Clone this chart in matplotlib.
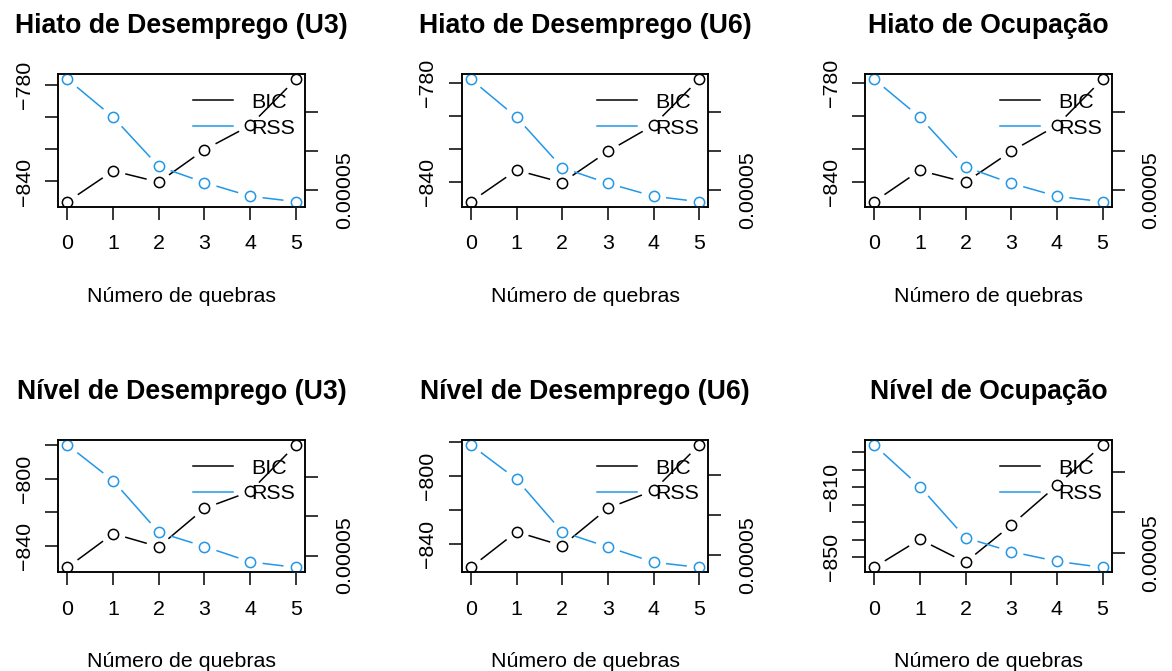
import numpy as np
import matplotlib
matplotlib.use("Agg")
import matplotlib.pyplot as plt
from matplotlib.collections import LineCollection
from matplotlib.lines import Line2D

plt.rcParams["font.family"] = ["Liberation Sans", "DejaVu Sans"]
plt.rcParams["axes.unicode_minus"] = True

# Number of structural breaks tested
breaks = [0, 1, 2, 3, 4, 5]

titles = [
    "Hiato de Desemprego (U3)",
    "Hiato de Desemprego (U6)",
    "Hiato de Ocupação",
    "Nível de Desemprego (U3)",
    "Nível de Desemprego (U6)",
    "Nível de Ocupação",
]

bic_hiato_u3 = [-852.5, -833.4, -840.4, -820.3, -805.3, -776.7]
rss_hiato_u3 = [7.84e-5, 6.87e-5, 5.61e-5, 5.20e-5, 4.85e-5, 4.71e-5]
bic_hiato_u6 = [-852.2, -833.1, -840.6, -821.7, -805.8, -778.0]
rss_hiato_u6 = [7.84e-5, 6.87e-5, 5.58e-5, 5.18e-5, 4.85e-5, 4.71e-5]
bic_hiato_ocup = [-852.2, -833.3, -840.4, -821.7, -806.0, -778.0]
rss_hiato_ocup = [7.84e-5, 6.87e-5, 5.60e-5, 5.18e-5, 4.85e-5, 4.71e-5]
bic_nivel_u3 = [-852.6, -832.6, -840.4, -817.6, -807.6, -780.0]
rss_nivel_u3 = [7.81e-5, 6.90e-5, 5.59e-5, 5.23e-5, 4.84e-5, 4.70e-5]
bic_nivel_u6 = [-854.0, -833.0, -841.2, -819.1, -808.6, -781.7]
rss_nivel_u6 = [7.76e-5, 6.90e-5, 5.58e-5, 5.20e-5, 4.82e-5, 4.69e-5]
bic_nivel_ocup = [-855.8, -839.8, -852.9, -831.7, -809.0, -785.9]
rss_nivel_ocup = [7.67e-5, 6.64e-5, 5.375e-5, 5.03e-5, 4.79e-5, 4.64e-5]

bic_series = [bic_hiato_u3, bic_hiato_u6, bic_hiato_ocup,
              bic_nivel_u3, bic_nivel_u6, bic_nivel_ocup]
rss_series = [rss_hiato_u3, rss_hiato_u6, rss_hiato_ocup,
              rss_nivel_u3, rss_nivel_u6, rss_nivel_ocup]

# Left (BIC) axis ticks and the labels that are printed
bic_ticks_20 = [-840, -820, -800, -780]
bic_ticks_10 = [-850, -840, -830, -820, -810, -800, -790]
bic_ticks = [bic_ticks_20, bic_ticks_20, bic_ticks_20,
             bic_ticks_20, bic_ticks_20, bic_ticks_10]
bic_labels = [
    ["\u2212840", "", "", "\u2212780"],
    ["\u2212840", "", "", "\u2212780"],
    ["\u2212840", "", "", "\u2212780"],
    ["\u2212840", "", "\u2212800", ""],
    ["\u2212840", "", "\u2212800", ""],
    ["\u2212850", "", "", "", "\u2212810", "", ""],
]
# Right (RSS) axis ticks
rss_ticks = [5e-5, 6e-5, 7e-5]
rss_labels = ["0.00005", "", ""]

xlabel = "Número de quebras"
legend_labels = ["BIC", "RSS"]

BLUE = "#2297E6"
W, H, DPI = 1172, 671, 100
FS = 15.4
FS_TITLE = 19.2
LW = 1.1
GAP_PX = 12.5

col_left = [58.3, 461.7, 865.0]
row_top = [74.3, 440.0]
box_w, box_h = 246.7, 132.3


def r_limits(v, frac=0.04):
    lo, hi = min(v), max(v)
    d = (hi - lo) * frac
    return lo - d, hi + d


def gapped(ax, x, y, gap):
    """Line segments between points, shortened near each point (R type='b')."""
    pts = ax.transData.transform(np.column_stack([x, y]))
    inv = ax.transData.inverted()
    segs = []
    for p, q in zip(pts[:-1], pts[1:]):
        d = q - p
        L = np.hypot(*d)
        if L > 2 * gap:
            u = d / L
            segs.append(inv.transform(np.array([p + u * gap, q - u * gap])))
    return segs


fig = plt.figure(figsize=(W / DPI, H / DPI), dpi=DPI)

for i in range(6):
    r, c = divmod(i, 3)
    left, top = col_left[c], row_top[r]
    rect = [left / W, 1 - (top + box_h) / H, box_w / W, box_h / H]
    ax = fig.add_axes(rect)
    ax2 = ax.twinx()

    bic = bic_series[i]
    rss = rss_series[i]

    ax.set_xlim(*r_limits(breaks))
    ax.set_ylim(*r_limits(bic))
    ax2.set_ylim(*r_limits(rss))

    ax.add_collection(LineCollection(gapped(ax, breaks, bic, GAP_PX),
                                     colors="black", linewidths=LW))
    ax.plot(breaks, bic, ls="none", marker="o", ms=7.4, mfc="none",
            mec="black", mew=LW)
    ax2.add_collection(LineCollection(gapped(ax2, breaks, rss, GAP_PX),
                                      colors=BLUE, linewidths=LW))
    ax2.plot(breaks, rss, ls="none", marker="o", ms=7.4, mfc="none",
             mec=BLUE, mew=LW)

    for a in (ax, ax2):
        for s in a.spines.values():
            s.set_linewidth(LW)
    ax.set_xticks(breaks)
    ax.set_xticklabels([str(b) for b in breaks])
    ax.set_yticks(bic_ticks[i])
    ax.set_yticklabels(bic_labels[i])
    ax2.set_yticks(rss_ticks)
    ax2.set_yticklabels(rss_labels)

    ax.tick_params(axis="x", direction="out", length=9.4, width=LW,
                   labelsize=FS, pad=10.5)
    ax.tick_params(axis="y", direction="out", length=9.4, width=LW,
                   labelsize=FS, pad=8.1)
    ax2.tick_params(axis="y", direction="out", length=9.4, width=LW,
                    labelsize=FS, pad=12.0)
    for lab in ax.get_yticklabels():
        lab.set_rotation(90)
        lab.set_va("center")
        lab.set_ha("right")
    for lab in ax2.get_yticklabels():
        lab.set_rotation(90)
        lab.set_va("center")
        lab.set_ha("left")

    handles = [Line2D([], [], color="black", lw=LW),
               Line2D([], [], color=BLUE, lw=LW)]
    ax2.legend(handles, legend_labels, loc="upper right",
               bbox_to_anchor=(0.9615, 0.859), frameon=False,
               fontsize=FS, borderpad=0, borderaxespad=0,
               handlelength=1.87, handletextpad=0.86, labelspacing=0.31)

    cx = (left + box_w / 2) / W
    fig.text(cx, 1 - (top - 41.3) / H, titles[i], ha="center",
             va="baseline", fontsize=FS_TITLE, fontweight="bold")
    fig.text(cx, 1 - (top + box_h + 95) / H, xlabel, ha="center",
             va="baseline", fontsize=FS)

fig.savefig("out.png", dpi=DPI)
